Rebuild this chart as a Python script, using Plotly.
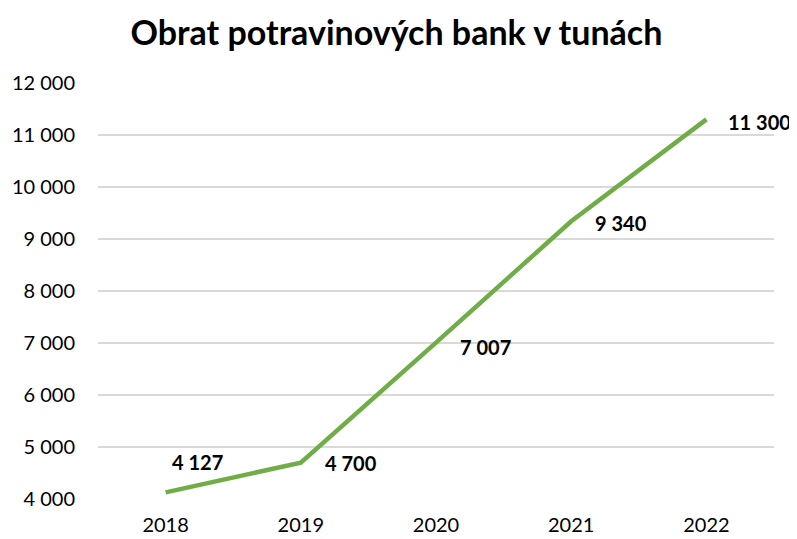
import plotly.graph_objects as go

years = ["2018", "2019", "2020", "2021", "2022"]
values = [4127, 4700, 7007, 9340, 11300]
title = "Obrat potravinových bank v tunách"

def fmt(v):
    return f"{v:,}".replace(",", " ")

FONT = "Lato, Open Sans, sans-serif"

fig = go.Figure()
fig.add_trace(go.Scatter(
    x=years, y=values, mode="lines",
    line=dict(color="#70AD47", width=4.5),
    hoverinfo="skip", showlegend=False,
))

shifts = [(4, 30), (22, 0), (22, -4), (22, -2), (20, -3)]
for i, v in enumerate(values):
    xs, ys = shifts[i]
    fig.add_annotation(
        x=i, y=v, xref="x", yref="y", text=f"<b>{fmt(v)}</b>", showarrow=False,
        xanchor="left", yanchor="middle", xshift=xs, yshift=ys,
        font=dict(family=FONT, size=20, color="#000000"),
    )

# the page body adds an 8px offset; margins compensate for it
fig.update_layout(
    width=797, height=539,
    margin=dict(l=90, r=31, t=75, b=48, autoexpand=False),
    paper_bgcolor="white", plot_bgcolor="white",
    separators=", ",
    title=dict(text=f"<b>{title}</b>", x=0.4875, xanchor="center", y=0.954, yanchor="middle",
               font=dict(family=FONT, size=34, color="#000000")),
    font=dict(family=FONT, size=20, color="#000000"),
)
fig.update_xaxes(
    type="category", range=[-0.5, 4.5], showgrid=False, zeroline=False,
    showline=False, ticks="", ticklabelstandoff=12, automargin=False,
    tickfont=dict(size=20),
)
fig.update_yaxes(
    range=[4000, 12000], dtick=1000, tickformat=",d",
    showgrid=True, gridcolor="#D9D9D9", gridwidth=1.5, zeroline=False,
    showline=False, ticks="", ticklabelstandoff=22, automargin=False,
    tickfont=dict(size=20),
)

fig.write_html("out.html")
